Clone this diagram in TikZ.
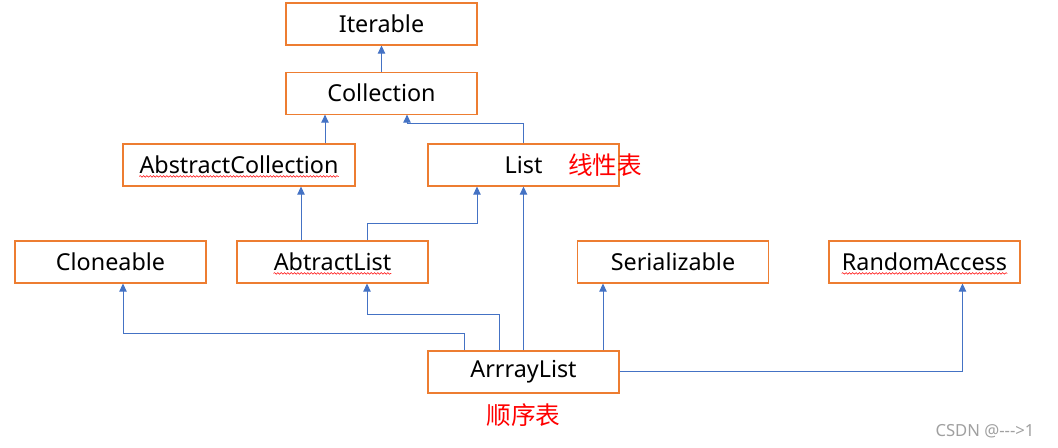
\documentclass[tikz,border=0pt]{standalone}
\usepackage{fontspec}
\setmainfont{Noto Sans}
\newfontfamily\cjk{Noto Sans CJK SC}
\usepackage{xcolor}
\usetikzlibrary{positioning}
\usetikzlibrary{arrows.meta}
\usetikzlibrary{decorations.pathmorphing}

\definecolor{boxorange}{HTML}{ED7D31}
\definecolor{linkblue}{HTML}{4472C4}
\definecolor{marktext}{HTML}{A0A0A0}

\tikzset{
  classbox/.style={draw=boxorange, line width=0.8pt, minimum width=143.25pt, minimum height=31.5pt, inner sep=0pt, font=\fontsize{17.5}{20}\selectfont},
  link/.style={draw=linkblue, line width=0.75pt, -{Triangle[width=5.5pt,length=6pt]}},
  note/.style={text=red, font=\cjk\fontsize{18.5}{22}\selectfont},
  spell/.style={draw=red, line width=0.4pt, overlay, decorate, decoration={snake, amplitude=0.6pt, segment length=2.5pt}}
}
\newcommand{\wavy}[1]{\tikz[baseline=(w.base)]{\node[draw=none, inner sep=0pt, minimum width=0pt, minimum height=0pt] (w) {#1}; \draw[spell] ([yshift=-2pt]w.base west) -- ([yshift=-2pt]w.base east);}}

\begin{document}
\begin{tikzpicture}[x=0.75pt, y=-0.75pt]
            \useasboundingbox (0,0) rectangle (1058,448);
            \node[classbox] (iterable) at (381.5,24) {Iterable};
            \node[classbox, below=19.5pt of iterable] (collection) {Collection};
            \node[classbox, minimum width=174pt] (abscoll) at (239,165) {\wavy{AbstractCollection}};
            \node[classbox] (list) at (523.5,165) {List};
            \node[classbox] (cloneable) at (110.5,262) {Cloneable};
            \node[classbox] (abslist) at (332.5,262) {\wavy{AbtractList}};
            \node[classbox] (serial) at (673,262) {Serializable};
            \node[classbox] (random) at (924.5,262) {\wavy{RandomAccess}};
            \node[classbox] (arraylist) at (523.5,372) {ArrrayList};
            \node[note] (linear) at (605,165) {线性表};
            \node[note, below=4pt of arraylist] (sequence) {顺序表};
            \node[text=marktext, font=\fontsize{12.5}{14}\selectfont] (mark) at (985,431) {CSDN @-{}-{}->1};
            % anchor points on the box borders
            \coordinate (c1) at ([shift={(-56.5,0)}]collection.south);
            \coordinate (c2) at ([shift={(25.5,0)}]collection.south);
            \coordinate (a1) at ([shift={(-31.5,0)}]abslist.north);
            \coordinate (a2) at ([shift={(34.5,0)}]abslist.north);
            \coordinate (a3) at ([shift={(34.5,0)}]abslist.south);
            \coordinate (l1) at ([shift={(-46.5,0)}]list.south);
            \coordinate (k1) at ([shift={(12.5,0)}]cloneable.south);
            \coordinate (q1) at ([shift={(38,0)}]random.south);
            \coordinate (r1) at ([shift={(-24.5,0)}]arraylist.north);
            \coordinate (r2) at ([shift={(-59.5,0)}]arraylist.north);
            \coordinate (r3) at ([shift={(79.5,0)}]arraylist.north);
            \draw[link] (collection) -- (iterable);
            \draw[link] (abscoll.north -| c1) -- (c1);
            \draw[link] (list.north) -- ++(0,-20) -| (c2);
            \draw[link] (a1) -- (a1 |- abscoll.south);
            \draw[link] (a2) -- ++(0,-17) -| (l1);
            \draw[link] (arraylist) -- (list);
            \draw[link] (r1) -- ++(0,-36) -| (a3);
            \draw[link] (r2) -- ++(0,-17) -| (k1);
            \draw[link] (r3) -- (r3 |- serial.south);
            \draw[link] (arraylist.east) -| (q1);
        \end{tikzpicture}
\end{document}
